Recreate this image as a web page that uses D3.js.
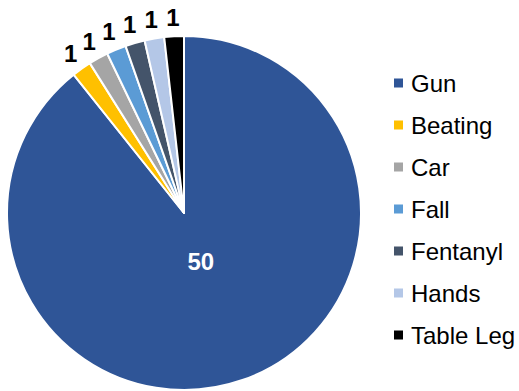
<!DOCTYPE html>
<html>
<head>
<meta charset="utf-8">
<script src="https://cdn.jsdelivr.net/npm/d3@7"></script>
<style>
  html, body { margin: 0; padding: 0; background: #ffffff; }
  svg { display: block; }
  svg text { font-family: "Liberation Sans", Arial, Helvetica, sans-serif; }
</style>
</head>
<body>
<svg id="chart" width="519" height="391"></svg>
<script>
// Causes and counts
const categories = ["Gun", "Beating", "Car", "Fall", "Fentanyl", "Hands", "Table Leg"];
const counts = [50, 1, 1, 1, 1, 1, 1];
const palette = ["#2f5597", "#ffc000", "#a5a5a5", "#5b9bd5", "#44546a", "#b4c7e7", "#000000"];

const svg = d3.select("#chart");
const cx = 184, cy = 213, radius = 177;
const fontFamily = "'Liberation Sans', Arial, Helvetica, sans-serif";

const color = d3.scaleOrdinal().domain(categories).range(palette);

const rows = categories.map((c, i) => ({ name: c, value: counts[i] }));

const pie = d3.pie().value(d => d.value).sort(null);
const arcs = pie(rows);

const arc = d3.arc().innerRadius(0).outerRadius(radius);
const outerLabelArc = d3.arc().innerRadius(radius + 19).outerRadius(radius + 19);
const innerLabelArc = d3.arc().innerRadius(51).outerRadius(51);

const g = svg.append("g").attr("transform", `translate(${cx},${cy})`);

g.selectAll("path.slice")
  .data(arcs)
  .join("path")
  .attr("class", "slice")
  .attr("d", arc)
  .attr("fill", d => color(d.data.name))
  .attr("stroke", "#ffffff")
  .attr("stroke-width", 2)
  .attr("stroke-linejoin", "round");

// Value labels: large slice inside in white, small slices outside in black
g.selectAll("text.value")
  .data(arcs)
  .join("text")
  .attr("class", "value")
  .attr("transform", d => {
    const big = (d.endAngle - d.startAngle) > Math.PI;
    const p = big ? innerLabelArc.centroid(d) : outerLabelArc.centroid(d);
    return `translate(${p[0]},${p[1]})`;
  })
  .attr("text-anchor", "middle")
  .attr("dominant-baseline", "central")
  .attr("font-family", fontFamily)
  .attr("font-size", 24)
  .attr("font-weight", "bold")
  .attr("fill", d => (d.endAngle - d.startAngle) > Math.PI ? "#ffffff" : "#000000")
  .text(d => d.data.value);

// Legend
const legendY = d3.scalePoint().domain(categories).range([83, 335]);
const legend = svg.append("g");
const item = legend.selectAll("g")
  .data(categories)
  .join("g")
  .attr("transform", d => `translate(394,${legendY(d)})`);

item.append("rect")
  .attr("x", 0).attr("y", -4.5)
  .attr("width", 9).attr("height", 9)
  .attr("fill", d => color(d));

item.append("text")
  .attr("x", 17)
  .attr("dominant-baseline", "central")
  .attr("font-family", fontFamily)
  .attr("font-size", 24)
  .attr("fill", "#000000")
  .text(d => d);
</script>
</body>
</html>
